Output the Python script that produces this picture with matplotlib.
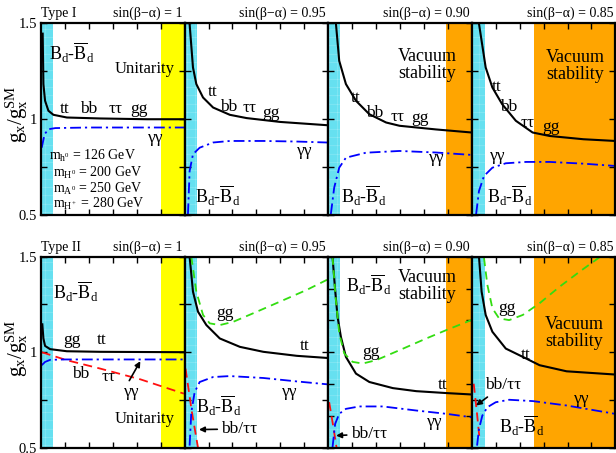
import matplotlib
matplotlib.use('Agg')
import matplotlib.pyplot as plt

plt.rcParams['font.family'] = ['Liberation Serif', 'DejaVu Serif']
plt.rcParams['mathtext.fontset'] = 'custom'
plt.rcParams['mathtext.rm'] = 'Liberation Serif'
plt.rcParams['mathtext.it'] = 'Liberation Serif:italic'
plt.rcParams['hatch.linewidth'] = 0.3

# columns: sin(beta-alpha)
sin_ba = ['1', '0.95', '0.90', '0.85']
bd_max = [0.5, 0.5, 0.5, 0.55]          # B_d mixing excludes tanb below this
unit_min = [5.0, None, None, None]      # unitarity excludes tanb above this
vac_min = [None, None, 4.93, 2.6]       # vacuum stability excludes tanb above this
ymax_I = [1.5, 1.5, 1.5, 1.5]
ymax_II = [1.5, 1.5, 2.0, 1.5]

# ---- Type I ----
I1_tt_tb = [0.07, 0.10, 0.17, 0.31, 0.52, 1.08, 2.48, 4.43, 5.96]
I1_tt_g = [1.443, 1.181, 1.094, 1.042, 1.021, 1.007, 1.002, 0.998, 0.998]
I1_aa_tb = [0.03, 0.15, 0.31, 0.6, 2.0, 6.0]
I1_aa_g = [0.85, 0.92, 0.946, 0.952, 0.955, 0.955]

I2_tt_tb = [0.21, 0.35, 0.49, 0.77, 1.19, 1.89, 2.59, 3.99, 5.95]
I2_tt_g = [1.493, 1.267, 1.181, 1.111, 1.059, 1.021, 1.004, 0.984, 0.967]
I2_aa_tb = [0.14, 0.21, 0.35, 0.63, 1.19, 1.89, 3.29, 4.69, 5.95]
I2_aa_g = [0.504, 0.729, 0.816, 0.85, 0.877, 0.885, 0.885, 0.882, 0.877]

I3_tt_tb = [0.32, 0.46, 0.74, 1.16, 1.72, 2.42, 2.98, 4.5, 5.99]
I3_tt_g = [1.50, 1.302, 1.181, 1.094, 1.024, 0.981, 0.964, 0.945, 0.929]
I3_aa_tb = [0.11, 0.25, 0.46, 0.74, 1.58, 2.98, 4.5, 5.99]
I3_aa_g = [0.504, 0.642, 0.746, 0.798, 0.824, 0.833, 0.825, 0.8125]

I4_tt_tb = [0.30, 0.58, 0.86, 1.27, 1.84, 2.54, 3.25, 4.66, 6.0]
I4_tt_g = [1.495, 1.267, 1.163, 1.076, 0.99, 0.929, 0.911, 0.894, 0.885]
I4_aa_tb = [0.18, 0.30, 0.51, 0.86, 1.42, 2.27, 3.25, 4.66, 6.0]
I4_aa_g = [0.504, 0.625, 0.703, 0.746, 0.769, 0.776, 0.776, 0.767, 0.755]

# ---- Type II ----
II1_tt_tb = [0.055, 0.10, 0.17, 0.38, 1.08, 2.48, 5.97]
II1_tt_g = [1.146, 1.072, 1.033, 1.016, 1.005, 1.002, 1.0]
II1_bb_tb = [0.03, 1.08, 2.48, 4.15, 5.97]
II1_bb_g = [1.0, 0.958, 0.914, 0.858, 0.783]
II1_aa_tb = [0.03, 0.17, 0.38, 1.0, 6.0]
II1_aa_g = [0.932, 0.949, 0.96, 0.962, 0.962]

II2_tt_tb = [0.21, 0.35, 0.56, 0.91, 1.47, 2.31, 3.29, 4.69, 5.95]
II2_tt_g = [1.5, 1.317, 1.212, 1.142, 1.072, 1.028, 1.002, 0.981, 0.97]
II2_gg_tb = [0.28, 0.49, 0.77, 1.05, 1.47, 2.03, 2.87, 3.99, 5.1, 5.95]
II2_gg_g = [1.5, 1.317, 1.195, 1.151, 1.142, 1.159, 1.204, 1.265, 1.326, 1.379]
II2_bb_tb = [0.04, 0.3, 0.56]
II2_bb_g = [0.914, 0.69, 0.5]
II2_aa_tb = [0.21, 0.28, 0.42, 0.63, 1.19, 1.89, 3.29, 4.69, 5.95]
II2_aa_g = [0.511, 0.686, 0.791, 0.844, 0.87, 0.875, 0.865, 0.847, 0.832]

II3_tt_tb = [0.18, 0.29, 0.39, 0.53, 0.74, 1.16, 1.72, 2.70, 3.68, 4.94, 5.99]
II3_tt_g = [2.0, 1.739, 1.529, 1.371, 1.213, 1.082, 1.016, 0.968, 0.944, 0.929, 0.918]
II3_gg_tb = [0.18, 0.32, 0.46, 0.67, 1.02, 1.44, 2.0, 2.98, 4.1, 4.94, 5.99]
II3_gg_g = [2.0, 1.661, 1.398, 1.24, 1.174, 1.161, 1.187, 1.266, 1.358, 1.424, 1.503]
II3_bb_tb = [0.04, 0.2, 0.35]
II3_bb_g = [0.858, 0.68, 0.5]
II3_aa_tb = [0.18, 0.29, 0.46, 0.74, 1.3, 2.28, 3.68, 4.94, 5.99]
II3_aa_g = [0.502, 0.687, 0.766, 0.805, 0.824, 0.824, 0.792, 0.766, 0.739]

II4_tt_tb = [0.30, 0.41, 0.58, 0.86, 1.42, 2.27, 2.83, 3.96, 6.0]
II4_tt_g = [1.5, 1.317, 1.195, 1.107, 1.019, 0.967, 0.932, 0.9, 0.883]
II4_gg_tb = [0.51, 0.65, 0.86, 1.14, 1.56, 2.13, 2.83, 3.68, 4.52, 5.37]
II4_gg_g = [1.493, 1.353, 1.23, 1.177, 1.168, 1.195, 1.256, 1.344, 1.423, 1.5]
II4_bb_tb = [0.08, 0.2, 0.32]
II4_bb_g = [0.835, 0.70, 0.55]
II4_aa_tb = [0.22, 0.30, 0.44, 0.65, 1.0, 1.56, 2.55, 3.96, 6.0]
II4_aa_g = [0.511, 0.598, 0.668, 0.712, 0.738, 0.751, 0.744, 0.721, 0.677]

masses = [r'm$_{\rm h^0}$ = 126 GeV', r'm$_{\rm H^0}$ = 200 GeV',
          r'm$_{\rm A^0}$ = 250 GeV', r'm$_{\rm H^+}$ = 280 GeV']

BD = r'B$_{\rm d}$-$\overline{\rm B}_{\rm d}$'
black = dict(color='k', lw=1.5, zorder=5)
blue = dict(color='#0000ff', lw=1.3, ls=(0, (6, 2.2, 1.2, 2.2)), zorder=5)
red = dict(color='#ff1010', lw=1.3, ls=(0, (5, 3)), zorder=5)
green = dict(color='#33dd11', lw=1.3, ls=(0, (4.5, 3)), zorder=5)

fig = plt.figure(figsize=(6.16, 4.53), dpi=100)
W, H = 616, 453
x0, pw = 41, 143.6


def make_axes(row_top, row_bot):
    axs = []
    for i in range(4):
        ax = fig.add_axes([(x0 + i * pw) / W, 1 - row_bot / H, pw / W, (row_bot - row_top) / H])
        axs.append(ax)
    return axs


top = make_axes(22.7, 215)
bot = make_axes(256.7, 447.7)


def setup(ax, i, ymax):
    ax.set_xlim(0, 6)
    ax.set_ylim(0.5, ymax)
    ax.set_xticks([1, 2, 3, 4, 5])
    ax.set_xticklabels([])
    yt = [0.5 + 0.25 * k for k in range(int(round((ymax - 0.5) / 0.25)) + 1)]
    ax.set_yticks(yt)
    if i == 0:
        ax.set_yticklabels(['0.5', '', '1', '', '1.5'], fontsize=10.5)
    else:
        ax.set_yticklabels([])
    ax.tick_params(direction='in', top=True, right=True, length=4.5, width=1, pad=3)
    for s in ax.spines.values():
        s.set_linewidth(1.6)
        s.set_zorder(10)
    ax.axvspan(0, bd_max[i], facecolor='#66e0f0', edgecolor='#9eedf7', hatch='++', lw=0, zorder=1)
    if unit_min[i] is not None:
        ax.axvspan(unit_min[i], 6, facecolor='#ffff00', lw=0, zorder=1)
    if vac_min[i] is not None:
        ax.axvspan(vac_min[i], 6, facecolor='#ffa500', lw=0, zorder=1)


for i in range(4):
    setup(top[i], i, ymax_I[i])
    setup(bot[i], i, ymax_II[i])
    for ax in (top[i], bot[i]):
        ax.text(0.985, 1.012, 'sin(β−α) = ' + sin_ba[i], transform=ax.transAxes,
                ha='right', va='bottom', fontsize=10)

top[0].text(0.0, 1.012, 'Type I', transform=top[0].transAxes, ha='left', va='bottom', fontsize=10)
bot[0].text(0.0, 1.012, 'Type II', transform=bot[0].transAxes, ha='left', va='bottom', fontsize=10)

for yc in (114, 348):
    fig.text(17 / W, 1 - yc / H, r'g$_{\rm x}$/g$_{\rm x}^{\rm SM}$', rotation=90,
             ha='center', va='center', fontsize=15)

fs = 12.5
vfs = 13

# ---- Type I curves ----
ax = top[0]
ax.plot(I1_tt_tb, I1_tt_g, **black)
ax.plot(I1_aa_tb, I1_aa_g, **blue)
ax.text(0.35, 1.345, BD, fontsize=13, ha='left', va='center', zorder=6)
ax.text(4.32, 1.259, 'Unitarity', fontsize=12, ha='center', va='center', zorder=6)
for lab, xx in zip(['tt', 'bb', 'ττ', 'gg'], [1.0, 1.98, 3.1, 4.08]):
    ax.text(xx, 1.05, lab, fontsize=fs, ha='center', va='center', zorder=6)
ax.text(4.78, 0.903, 'γγ', fontsize=fs, ha='center', va='center', zorder=6)
for k, (m, yy) in enumerate(zip(masses, [0.807, 0.719, 0.635, 0.557])):
    ax.text(0.35 if k == 0 else 0.5, yy, m, fontsize=10, ha='left', va='center', zorder=6)

ax = top[1]
ax.plot(I2_tt_tb, I2_tt_g, **black)
ax.plot(I2_aa_tb, I2_aa_g, **blue)
for lab, xx, yy in [('tt', 1.19, 1.142), ('bb', 1.82, 1.0625), ('ττ', 2.73, 1.056),
                    ('gg', 3.6, 1.033), ('γγ', 5.03, 0.833)]:
    ax.text(xx, yy, lab, fontsize=fs, ha='center', va='center', zorder=6)
ax.text(0.42, 0.599, BD, fontsize=13, ha='left', va='center', zorder=6)

ax = top[2]
ax.plot(I3_tt_tb, I3_tt_g, **black)
ax.plot(I3_aa_tb, I3_aa_g, **blue)
for lab, xx, yy in [('tt', 1.16, 1.111), ('bb', 1.93, 1.033), ('ττ', 2.9, 1.01),
                    ('gg', 3.82, 1.007), ('γγ', 4.52, 0.798)]:
    ax.text(xx, yy, lab, fontsize=fs, ha='center', va='center', zorder=6)
ax.text(4.15, 1.28, 'Vacuum\nstability', fontsize=vfs, ha='center', va='center',
        linespacing=1.0, zorder=6)
ax.text(0.53, 0.599, BD, fontsize=13, ha='left', va='center', zorder=6)

ax = top[3]
ax.plot(I4_tt_tb, I4_tt_g, **black)
ax.plot(I4_aa_tb, I4_aa_g, **blue)
for lab, xx, yy in [('tt', 1.03, 1.167), ('bb', 1.53, 1.0625), ('ττ', 2.34, 0.976),
                    ('gg', 3.33, 0.958), ('γγ', 1.07, 0.807)]:
    ax.text(xx, yy, lab, fontsize=fs, ha='center', va='center', zorder=6)
ax.text(4.31, 1.276, 'Vacuum\nstability', fontsize=vfs, ha='center', va='center',
        linespacing=1.0, zorder=6)
ax.text(0.65, 0.599, BD, fontsize=13, ha='left', va='center', zorder=6)

# ---- Type II curves ----
arrow = dict(arrowstyle='-|>', color='k', lw=1.2, mutation_scale=8, shrinkA=1, shrinkB=0)

ax = bot[0]
ax.plot(II1_tt_tb, II1_tt_g, **black)
ax.plot(II1_bb_tb, II1_bb_g, **red)
ax.plot(II1_aa_tb, II1_aa_g, **blue)
ax.text(0.52, 1.317, BD, fontsize=13, ha='left', va='center', zorder=6)
for lab, xx, yy in [('gg', 1.29, 1.063), ('tt', 2.55, 1.063), ('bb', 1.64, 0.888),
                    ('ττ', 2.82, 0.87), ('γγ', 3.8, 0.791)]:
    ax.text(xx, yy, lab, fontsize=fs, ha='center', va='center', zorder=6)
ax.text(4.32, 0.651, 'Unitarity', fontsize=12, ha='center', va='center', zorder=6)
ax.annotate('', xy=(4.15, 0.953), xytext=(3.66, 0.845), arrowprops=arrow, zorder=7)

ax = bot[1]
ax.plot(II2_tt_tb, II2_tt_g, **black)
ax.plot(II2_gg_tb, II2_gg_g, **green)
ax.plot(II2_bb_tb, II2_bb_g, **red)
ax.plot(II2_aa_tb, II2_aa_g, **blue)
for lab, xx, yy in [('gg', 1.68, 1.204), ('tt', 5.03, 1.033), ('γγ', 4.41, 0.791)]:
    ax.text(xx, yy, lab, fontsize=fs, ha='center', va='center', zorder=6)
ax.text(0.49, 0.721, BD, fontsize=13, ha='left', va='center', zorder=6)
ax.annotate('bb/ττ', xy=(0.6, 0.595), xytext=(1.54, 0.598), fontsize=fs,
            ha='left', va='center', arrowprops=arrow, zorder=7)

ax = bot[2]
ax.plot(II3_tt_tb, II3_tt_g, **black)
ax.plot(II3_gg_tb, II3_gg_g, **green)
ax.plot(II3_bb_tb, II3_bb_g, **red)
ax.plot(II3_aa_tb, II3_aa_g, **blue)
for lab, xx, yy in [('gg', 1.79, 1.252), ('tt', 4.8, 0.989), ('γγ', 4.45, 0.70)]:
    ax.text(xx, yy, lab, fontsize=fs, ha='center', va='center', zorder=6)
ax.text(0.74, 1.779, BD, fontsize=13, ha='left', va='center', zorder=6)
ax.text(4.15, 1.771, 'Vacuum\nstability', fontsize=vfs, ha='center', va='center',
        linespacing=1.0, zorder=6)
ax.annotate('bb/ττ', xy=(0.33, 0.595), xytext=(0.95, 0.608), fontsize=fs,
            ha='left', va='center', arrowprops=arrow, zorder=7)

ax = bot[3]
ax.plot(II4_tt_tb, II4_tt_g, **black)
ax.plot(II4_gg_tb, II4_gg_g, **green)
ax.plot(II4_bb_tb, II4_bb_g, **red)
ax.plot(II4_aa_tb, II4_aa_g, **blue)
for lab, xx, yy in [('gg', 1.49, 1.23), ('tt', 2.24, 0.984), ('γγ', 4.59, 0.753)]:
    ax.text(xx, yy, lab, fontsize=fs, ha='center', va='center', zorder=6)
ax.text(4.27, 1.101, 'Vacuum\nstability', fontsize=vfs, ha='center', va='center',
        linespacing=1.0, zorder=6)
ax.text(1.14, 0.616, BD, fontsize=13, ha='left', va='center', zorder=6)
ax.annotate('bb/ττ', xy=(0.18, 0.721), xytext=(0.55, 0.826), fontsize=fs,
            ha='left', va='center', arrowprops=arrow, zorder=7)

fig.savefig('out.png', dpi=100)
